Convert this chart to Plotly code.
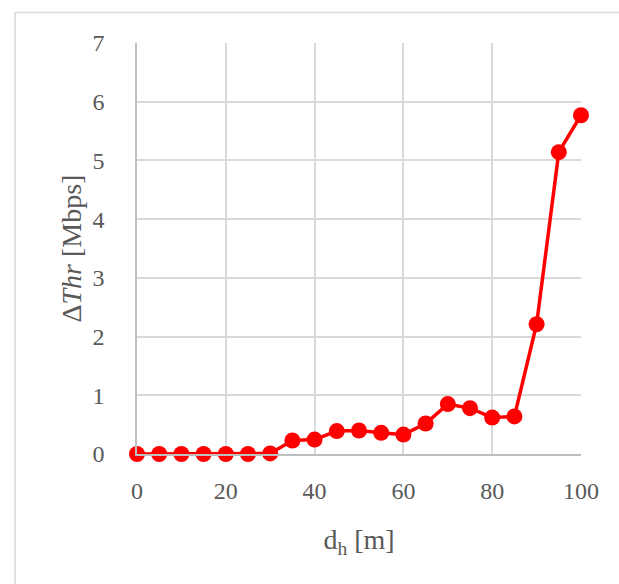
import plotly.graph_objects as go

# Horizontal distance d_h [m] and throughput gain ΔThr [Mbps]
d_h = [0, 5, 10, 15, 20, 25, 30, 35, 40, 45, 50, 55, 60, 65, 70, 75, 80, 85, 90, 95, 100]
delta_thr = [0, 0, 0, 0, 0, 0, 0.01, 0.23, 0.245, 0.39, 0.40, 0.36, 0.33, 0.52,
             0.85, 0.78, 0.62, 0.64, 2.21, 5.14, 5.77]

x_ticks = [0, 20, 40, 60, 80, 100]
y_ticks = [0, 1, 2, 3, 4, 5, 6, 7]

FONT = "Liberation Serif"
TICK_COLOR = "#595959"
GRID = "#d9d9d9"

fig = go.Figure()
fig.add_trace(go.Scatter(
    x=d_h, y=delta_thr, mode="lines+markers",
    line=dict(color="#ff0000", width=3.5),
    marker=dict(color="#ff0000", size=16),
    showlegend=False, cliponaxis=False,
))

W, H = 619, 584
L, R, T, B = 137, 38, 43, 130
pw, ph = W - L - R, H - T - B

def px_to_paper_x(px):
    return (px - L) / pw

def px_to_paper_y(py):
    return (H - B - py) / ph

# Outer chart frame
fig.add_shape(type="rect", xref="paper", yref="paper",
              x0=px_to_paper_x(15), x1=px_to_paper_x(W + 5),
              y0=px_to_paper_y(H + 5), y1=px_to_paper_y(12.5),
              line=dict(color=GRID, width=1.5), layer="below")

fig.update_layout(
    width=W, height=H,
    margin=dict(l=L, r=R, t=T, b=B),
    paper_bgcolor="white", plot_bgcolor="white",
    font=dict(family=FONT, size=24, color=TICK_COLOR),
    xaxis=dict(
        range=[0, 100], tickvals=x_ticks, showgrid=True, gridcolor=GRID, gridwidth=1.5,
        zeroline=False, showline=True, linecolor="#bfbfbf", linewidth=1.5,
        mirror=False, ticks="", ticklabelstandoff=14,
        title=dict(text="d<sub>h</sub> [m]", font=dict(family=FONT, size=28, color=TICK_COLOR),
                   standoff=27),
    ),
    yaxis=dict(
        range=[0, 7], tickvals=y_ticks, showgrid=True, gridcolor=GRID, gridwidth=1.5,
        zeroline=False, showline=True, linecolor="#bfbfbf", linewidth=1.5,
        ticks="", ticklabelstandoff=26,
        title=dict(text="Δ<i>Thr</i> [Mbps]", font=dict(family=FONT, size=28, color=TICK_COLOR),
                   standoff=3),
    ),
)

fig.write_html("out.html")
